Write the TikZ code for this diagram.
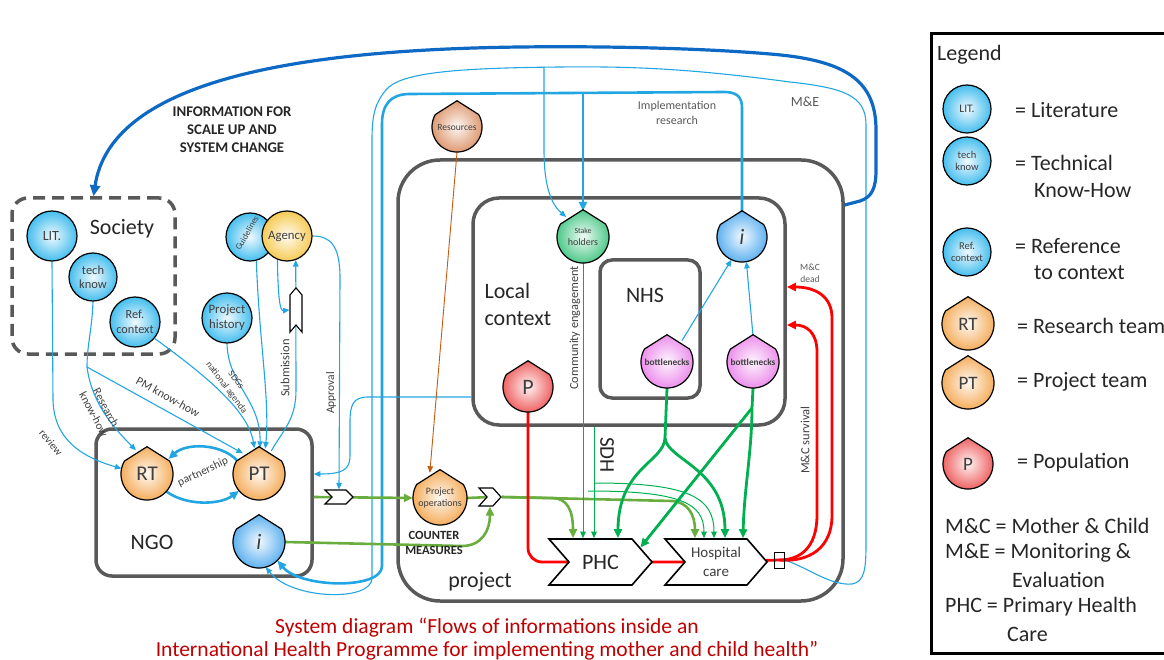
\documentclass[tikz,border=0pt]{standalone}
\usepackage{fontspec}
\setmainfont{Carlito}
\usetikzlibrary{arrows.meta,shapes.symbols,calc}

\definecolor{boxgray}{HTML}{595959}
\definecolor{txtgray}{HTML}{3F3F3F}
\definecolor{darktxt}{HTML}{262626}
\definecolor{flowblue}{HTML}{22A6E3}
\definecolor{deepblue}{HTML}{0D69C4}
\definecolor{hsgreen}{HTML}{00B050}
\definecolor{opgreen}{HTML}{6AAD3F}
\definecolor{mcred}{HTML}{FF0000}
\definecolor{resbrown}{HTML}{C55A11}
\definecolor{titlered}{HTML}{C00000}
\definecolor{fillblue}{HTML}{45BEEE}
\definecolor{fillorange}{HTML}{F5AE5E}
\definecolor{fillyellow}{HTML}{F6CB55}
\definecolor{fillred}{HTML}{EF6464}
\definecolor{fillgreen}{HTML}{4FC98A}
\definecolor{fillpink}{HTML}{EC8FEC}
\definecolor{fillpeach}{HTML}{DE9A72}
\definecolor{fillinfo}{HTML}{5FB2F0}

\pgfdeclarelayer{boxes}
\pgfdeclarelayer{flows}
\pgfsetlayers{boxes,flows,main}

\newcommand\pxfont[2]{\fontsize{#1}{#2}\selectfont}

% actor symbol: a round body with a pointed roof
% #1 name, #2 x, #3 y, #4 radius, #5 colour, #6 text
\newcommand\shieldnode[6]{%
  \shadedraw[draw=black, line width=1.2pt, inner color=#5!8, outer color=#5]
    ({#2-0.866*#4},{#3-0.5*#4}) -- (#2,{#3-1.05*#4}) -- ({#2+0.866*#4},{#3-0.5*#4})
    -- plot[domain=-30:210, samples=49, variable=\t] ({#2+#4*cos(\t)},{#3+#4*sin(\t)}) -- cycle;
  \node[circle, inner sep=0pt, minimum size={2*#4}, align=center] (#1) at (#2,#3) {#6};
}

\begin{document}
\begin{tikzpicture}[x=1pt, y=-1pt,
  every node/.style={text=txtgray},
  area/.style={draw=boxgray, line width=3.5pt, inner sep=0pt},
  bubble/.style={circle, draw=black, line width=1.2pt, inner sep=0pt, minimum size=50pt, inner color=#1!8, outer color=#1, align=center},
  fineblue/.style={draw=flowblue, line width=1.1pt},
  smalltip/.style={-{Triangle[length=6.5pt,width=5.5pt]}},
  thinflow/.style={fineblue, smalltip},
  thickflow/.style={draw=flowblue, line width=2.6pt, -{Triangle[length=9pt,width=8pt]}},
  deepflow/.style={draw=deepblue, line width=3.2pt, -{Triangle[length=11pt,width=10pt]}},
  opflow/.style={draw=opgreen, line width=2.6pt},
  bigtip/.style={-{Triangle[length=9pt,width=8pt]}},
  hsline/.style={draw=hsgreen, line width=2.8pt},
  hsflow/.style={hsline, bigtip},
  sdhflow/.style={draw=hsgreen, line width=1pt, smalltip},
  mcline/.style={draw=mcred, line width=2.8pt},
  resflow/.style={draw=resbrown, line width=0.9pt, smalltip},
  lbl/.style={inner sep=1pt},
  gate/.style={signal, signal to=east, signal from=west, draw=black, fill=white, inner sep=0pt},
  legtext/.style={anchor=west, font=\pxfont{22}{24}, text=darktxt, inner sep=0pt},
]
\useasboundingbox (0,0) rectangle (1164,660);

% ---------- regions
\begin{pgfonlayer}{boxes}
  \node[area, dash pattern=on 12pt off 7pt, rounded corners=16pt, minimum width=163pt, minimum height=156pt] (soc) at (93.5,276) {};
  \node[area, rounded corners=16pt, minimum width=216pt, minimum height=147pt] (ngo) at (204,502.5) {};
  \node[area, rounded corners=42pt, minimum width=445pt, minimum height=441pt] (proj) at (620.5,380.5) {};
  \node[area, rounded corners=26pt, minimum width=312pt, minimum height=227pt] (lc) at (629,311.5) {};
  \node[area, rounded corners=12pt, minimum width=100pt, minimum height=138pt] (nhs) at (650,329) {};
\end{pgfonlayer}

\node[font=\pxfont{22}{26}, text=darktxt] (soct) at (122,229) {Society};
\node[font=\pxfont{22}{26}, text=darktxt] (ngot) at (152,542) {NGO};
\node[font=\pxfont{22}{27}, text=darktxt, align=left, anchor=west] (lct) at (481,304) {Local\\context};
\node[font=\pxfont{22}{26}, text=darktxt] (nhst) at (645,295) {NHS};
\node[font=\pxfont{22}{26}, text=darktxt] (projt) at (480,582) {project};

% ---------- knowledge sources
\node[bubble=fillblue, font=\pxfont{14}{14}] (lit) at (52,236) {LIT.};
\node[bubble=fillblue, minimum size=48pt, font=\pxfont{12.5}{14.5}] (tk) at (93,277) {tech\\know};
\node[bubble=fillblue, font=\pxfont{12.3}{14.5}] (ref) at (135,322) {Ref.\\context};
\node[bubble=fillblue, font=\pxfont{12.8}{15}] (ph) at (227,318) {Project\\history};
\node[bubble=fillblue, minimum size=48pt] (gl) at (250,237) {};
\node[rotate=60, font=\pxfont{8.8}{9}] (glt) at (247,233) {Guidelines};
\node[bubble=fillyellow, font=\pxfont{12.8}{14}] (ag) at (287,236) {Agency};

% ---------- actors
\shieldnode{RT}{147}{474}{26}{fillorange}{\pxfont{21}{21}RT}
\shieldnode{PT}{259}{474}{26}{fillorange}{\pxfont{21}{21}PT}
\shieldnode{ni}{259}{542}{26}{fillinfo}{\pxfont{22}{22}\textit{i}}
\shieldnode{res}{457}{127}{25}{fillpeach}{\pxfont{9.5}{10}Resources}
\shieldnode{po}{440}{498}{27}{fillorange}{\pxfont{9.8}{11}Project\\operations}
\shieldnode{sh}{583}{237}{26}{fillgreen}{\pxfont{7.8}{9.5}Stake\\holders}
\shieldnode{li}{742}{237}{25}{fillinfo}{\pxfont{22}{22}\textit{i}}
\shieldnode{b1}{667}{362}{26}{fillpink}{\pxfont{9.3}{10}\textbf{bottlenecks}}
\shieldnode{b2}{753}{362}{26}{fillpink}{\pxfont{9.3}{10}\textbf{bottlenecks}}
\shieldnode{P}{528}{387}{25}{fillred}{\pxfont{22}{22}P}

% ---------- gates and services
\node[gate, line width=1.2pt, minimum width=28pt, minimum height=14pt, signal pointer angle=90] (c1) at (339,497) {};
\node[gate, line width=1.2pt, minimum width=22pt, minimum height=18pt, signal pointer angle=96] (c2) at (490,497) {};
\node[gate, line width=1.6pt, minimum width=103pt, minimum height=46pt, signal pointer angle=98, font=\pxfont{22}{22}, text=darktxt] (phc) at (600.5,562) {PHC};
\node[gate, line width=1.6pt, minimum width=102pt, minimum height=46pt, signal pointer angle=98, font=\pxfont{15}{19}, align=center] (hc) at (716,562) {Hospital\\care};
\node[signal, signal to=north, signal from=south, draw=black, fill=white, line width=1.1pt, minimum width=12pt, minimum height=30pt, inner sep=0pt, signal pointer angle=80] (bm) at (296,310) {};
\node[draw=black, line width=0.9pt, minimum width=10pt, minimum height=16pt, inner sep=0pt] (sq) at (779,560) {};

% ---------- flows
\begin{pgfonlayer}{flows}
  % knowledge into the NGO
  \draw[thinflow] (lit.south) -- (53,400) .. controls (54,440) and (82,457) .. (RT.168);
  \coordinate (tkfork) at (87,367);
  \draw[fineblue] (tk.south) .. controls (92,330) and (87,345) .. (tkfork);
  \draw[thinflow] (tkfork) .. controls (92,405) and (116,430) .. (RT.115);
  \draw[thinflow] (tkfork) -- (PT.128);
  \draw[thinflow] (ref.-40) .. controls (205,375) and (248,410) .. (PT.100);
  \draw[thinflow] (ph.south) .. controls (228,385) and (261,400) .. (PT.88);
  \draw[thinflow] (gl.-75) .. controls (259,340) and (270,400) .. (PT.76);
  \draw[thinflow] (PT.62) .. controls (283,430) and (296,420) .. (296,390) -- (ag.-70);
  \draw[thinflow] (ag.-112) .. controls (278,298) and (280,311) .. (bm.west);
  \draw[thinflow] (ag.east) .. controls (330,236) and (340,245) .. (340,278) -- (c1.north);

  % partnership
  \draw[thickflow] (PT.148) .. controls (220,443) and (186,443) .. (RT.35);
  \draw[thickflow] (RT.-42) .. controls (186,506) and (220,505) .. (PT.-140);

  % local context feedback to the NGO
  \draw[thinflow] (lc.west |- 0,397) -- (368,397) .. controls (353,397) and (350,405) .. (350,422) -- (350,456) .. controls (350,470) and (342,474) .. (ngo.east |- PT.center);

  % monitoring and evaluation loop
  \draw[thinflow] (sq.east) .. controls (805,566) and (830,586) .. (852,584) .. controls (864,582) and (866,570) .. (866,545) -- (866,125) .. controls (866,96) and (845,88) .. (790,82) .. controls (700,70) and (640,66) .. (560,67) .. controls (460,68) and (400,72) .. (386,90) .. controls (375,103) and (372,115) .. (372,140) -- (372,578) .. controls (372,602) and (292,600) .. (ni.-75);
  \draw[thinflow] (544,67) -- (544,150) .. controls (544,188) and (552,205) .. (sh.130);

  % implementation research
  \draw[thickflow] (li.north) -- (742,108) .. controls (742,97) and (737,92) .. (724,92) -- (410,94) .. controls (391,94) and (382,104) .. (382,124) -- (382,566) .. controls (382,590) and (300,588) .. (ni.-45);
  \draw[thickflow] (583,93) -- (sh.north);

  % scale-up information back to society
  \draw[deepflow] (proj.east |- 0,205) -- (860,201) .. controls (872,197) and (876,188) .. (876,170) -- (876,130) .. controls (876,80) and (845,60) .. (770,54) .. controls (700,48) and (600,46) .. (520,47) .. controls (280,50) and (110,85) .. (soc.north);

  % bottlenecks reported
  \draw[thinflow] (b1.55) -- (li.-115);
  \draw[thinflow] (b2.north) -- (li.-80);

  % resources
  \draw[resflow] (res.south) -- (po.112);

  % operations and counter measures
  \draw[opflow, bigtip] (ngo.east |- c1.center) -- (po.west);
  \draw[opflow] (po.east) -- (c2.center);
  \draw[opflow, bigtip] (ni.east) -- (462,546) .. controls (482,546) and (490,530) .. (c2.south);
  \draw[opflow, bigtip] (c2.east) -- (552,498) .. controls (567,498) and (573,510) .. (573,0 |- phc.north);
  \draw[opflow, bigtip] (c2.east) -- (672,501) .. controls (688,502) and (695,515) .. (695,0 |- hc.north);

  % community engagement and social determinants
  \draw[sdhflow] (sh.south) -- (583,0 |- phc.north);
  \draw[sdhflow] (594,0 |- lc.south) -- (594,0 |- phc.north);
  \draw[sdhflow] (594,483) .. controls (690,483) and (714,498) .. (714,0 |- hc.north);
  \draw[sdhflow] (588,491) .. controls (680,491) and (704,503) .. (704,0 |- hc.north);

  % health system bottlenecks
  \coordinate (bfork1) at (665,438);
  \draw[hsline] (b1.south) -- (bfork1);
  \draw[hsflow] (bfork1) .. controls (664,462) and (618,468) .. (618,0 |- phc.north);
  \draw[hsflow] (bfork1) .. controls (667,460) and (725,468) .. (725,0 |- hc.north);
  \coordinate (bfork2) at (752,408);
  \draw[hsline] (b2.south) -- (bfork2);
  \draw[hsflow] (bfork2) -- (phc.20);
  \draw[hsflow] (bfork2) .. controls (752,450) and (744,490) .. (743,0 |- hc.north);

  % mother and child pathway
  \draw[mcline, rounded corners=14pt] (P.south) -- (528,562) -- (phc.center);
  \draw[mcline] (phc.center) -- (hc.center) -- (sq.center);
  \draw[mcline, bigtip] (sq.center) .. controls (800,562) and (832,555) .. (832,515) -- (832,318) .. controls (832,296) and (815,287) .. (lc.east |- 0,287);
  \draw[mcline, bigtip] (sq.center) .. controls (800,560) and (817,548) .. (817,515) -- (817,352) .. controls (817,333) and (807,325) .. (lc.east |- 0,325);
\end{pgfonlayer}

% ---------- flow labels
\node[lbl, rotate=-50, font=\pxfont{11}{12}] (revt) at (51,443) {review};
\node[lbl, rotate=-62, align=center, font=\pxfont{11.5}{14}] (rkt) at (100,411) {Research\\know-how};
\node[lbl, rotate=-29, font=\pxfont{12}{13}] (pmt) at (168,397) {PM know-how};
\node[lbl, rotate=-53, align=center, font=\pxfont{9.5}{12}] (sdgt) at (231,384) {SDGs\\national agenda};
\node[lbl, rotate=90, font=\pxfont{12.5}{13}] (subt) at (285,368) {Submission};
\node[lbl, rotate=90, font=\pxfont{11.5}{12}] (appt) at (331,393) {Approval};
\node[lbl, rotate=25, font=\pxfont{11.5}{12}] (part) at (203,472) {partnership};
\node[lbl, align=center, font=\bfseries\pxfont{14.8}{18}, text=darktxt] (infot) at (232,130) {INFORMATION FOR\\SCALE UP AND\\SYSTEM CHANGE};
\node[lbl, align=center, font=\bfseries\pxfont{12.5}{15}, text=darktxt] (cmt) at (434,543) {COUNTER\\MEASURES};
\node[lbl, align=center, font=\pxfont{12}{15}, text=boxgray] (irt) at (677,113) {Implementation\\research};
\node[lbl, font=\pxfont{14}{14}, text=boxgray] (met) at (805,102) {M\&E};
\node[lbl, rotate=90, font=\pxfont{12.3}{13}] (cet) at (575,328) {Community engagement};
\node[lbl, rotate=-90, font=\pxfont{21}{21}, text=darktxt] (sdht) at (607,455) {SDH};
\node[lbl, align=center, font=\pxfont{9.5}{12}, text=boxgray] (mcdt) at (810,273) {M\&C\\dead};
\node[lbl, rotate=90, font=\pxfont{12.5}{13}] (mcst) at (805,440) {M\&C survival};

% ---------- legend
\node[draw=black, line width=3pt, minimum width=242pt, minimum height=620pt, anchor=north west, inner sep=0pt] (legend) at (930,32) {};
\node[legtext] (legt) at (937,55) {Legend};
\node[bubble=fillblue, minimum size=48pt, font=\pxfont{11.5}{12}] (klit) at (967,109) {LIT.};
\node[legtext] (klitt) at (1015,110) {= Literature};
\node[bubble=fillblue, minimum size=48pt, font=\pxfont{10.5}{12}] (ktk) at (967,161) {tech\\know};
\node[legtext] (ktkt) at (1015,163) {= Technical};
\node[legtext] (ktkt2) at (1034,191) {Know-How};
\node[bubble=fillblue, minimum size=48pt, font=\pxfont{10.5}{12}] (kref) at (967,252) {Ref.\\context};
\node[legtext] (kreft) at (1015,246) {= Reference};
\node[legtext] (kreft2) at (1034,273) {to context};
\shieldnode{kRT}{968}{324}{26}{fillorange}{\pxfont{19}{19}RT}
\node[legtext] (krtt) at (1017,326) {= Research team};
\shieldnode{kPT}{968}{383}{26}{fillorange}{\pxfont{19}{19}PT}
\node[legtext] (kptt) at (1017,382) {= Project team};
\shieldnode{kP}{968}{464}{25}{fillred}{\pxfont{19}{19}P}
\node[legtext] (kpt) at (1017,463) {= Population};
\node[legtext] (kmc) at (945,526) {M\&C = Mother \& Child};
\node[legtext] (kme) at (945,553) {M\&E = Monitoring \&};
\node[legtext] (kme2) at (1012,580) {Evaluation};
\node[legtext] (kphc) at (945,607) {PHC = Primary Health};
\node[legtext] (kphc2) at (1007,634) {Care};

% ---------- caption
\node[text=titlered, align=center, font=\pxfont{21.5}{22.5}] (title) at (487,639) {System diagram “Flows of informations inside an\\International Health Programme for implementing mother and child health”};
\end{tikzpicture}
\end{document}
